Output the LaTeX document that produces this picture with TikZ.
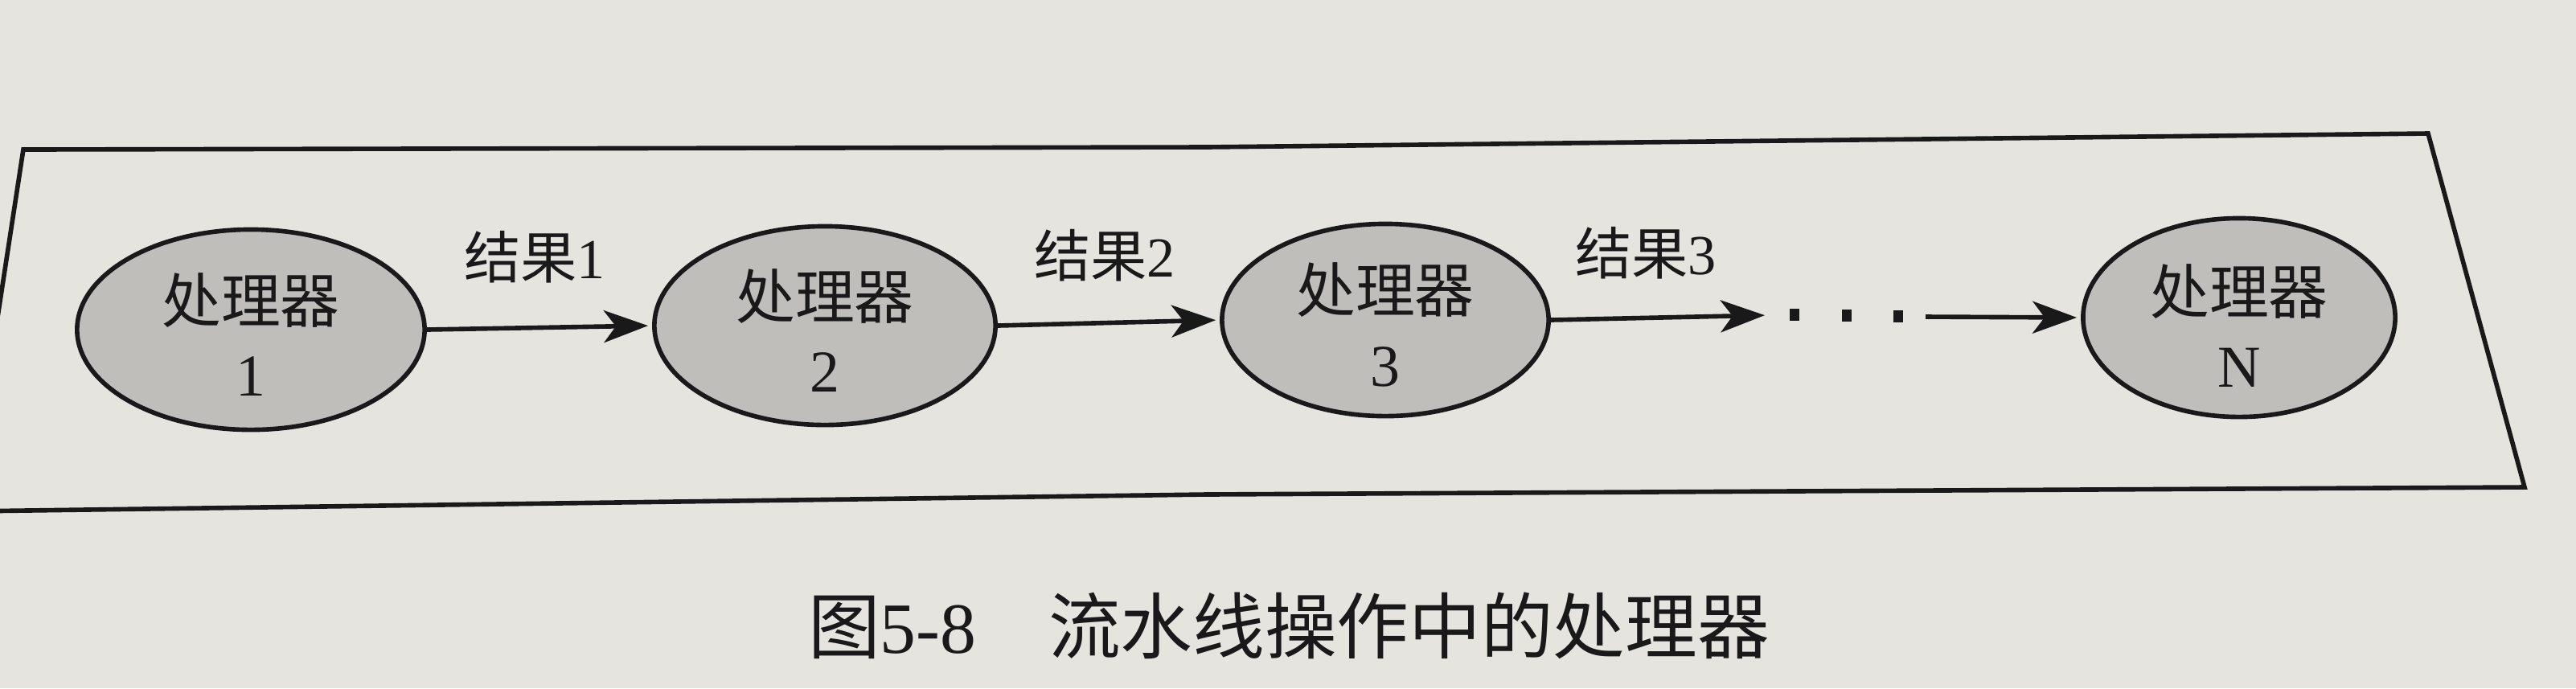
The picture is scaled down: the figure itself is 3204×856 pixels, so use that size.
\documentclass[tikz,border=0pt]{standalone}
\usepackage{fontspec}
\setmainfont{Liberation Serif}
\newfontfamily\cjk{Noto Sans CJK SC}
\usetikzlibrary{shapes.geometric,arrows.meta}
\definecolor{paper}{RGB}{230,228,223}
\definecolor{shade}{RGB}{192,190,187}
\definecolor{ink}{RGB}{25,25,25}
\tikzset{
  proc/.style={ellipse, draw=ink, line width=1.6pt, fill=shade, inner sep=0pt},
  proctext/.style={align=center, font=\fontsize{21}{26}\selectfont, text=ink, inner sep=0pt},
  lbl/.style={font=\fontsize{20}{24}\selectfont, text=ink, inner sep=0pt},
  arr/.style={draw=ink, line width=1.6pt, shorten >=0.05cm,
    -{Stealth[length=5.5mm,width=4mm,inset=1.5mm]}},
  dotbox/.style={fill=ink, minimum width=1.2mm, minimum height=1.5mm, inner sep=0pt},
  framebox/.style={draw=ink, line width=1.6pt, line join=miter},
  capt/.style={font=\fontsize{25.5}{30}\selectfont, text=ink, inner sep=0pt}
}
\begin{document}
\begin{tikzpicture}[x=0.01cm,y=-0.01cm]
\useasboundingbox (0,0) rectangle (3204,856);
\clip (0,0) rectangle (3204,856);
\fill[paper] (0,0) rectangle (3204,856);
% frame (photographed page, slightly in perspective)
\draw[framebox] (29,186) -- (1500,183) -- (3020,166) -- (3140,606) -- (1500,615) -- (-40,636) -- cycle;
% processors
\node[proc, minimum width=4.32cm, minimum height=2.49cm] (p1) at (312,410) {};
\node[proc, minimum width=4.24cm, minimum height=2.47cm] (p2) at (1026,405) {};
\node[proc, minimum width=4.06cm, minimum height=2.39cm] (p3) at (1723,398) {};
\node[proc, minimum width=3.88cm, minimum height=2.47cm] (pN) at (2785,395) {};
\node[proctext] (t1) at ([yshift=-0.06cm]p1.center) {{\cjk 处理器}\\1};
\node[proctext] (t2) at ([yshift=-0.06cm]p2.center) {{\cjk 处理器}\\2};
\node[proctext] (t3) at ([yshift=-0.06cm]p3.center) {{\cjk 处理器}\\3};
\node[proctext] (tN) at ([yshift=-0.1cm]pN.center) {{\cjk 处理器}\\N};
% labels
\node[lbl] (l1) at (665,320) {{\cjk 结果}1};
\node[lbl] (l2) at (1374,318) {{\cjk 结果}2};
\node[lbl] (l3) at (2047,315) {{\cjk 结果}3};
% connectors
\draw[arr] (p1.east) -- (p2.west);
\draw[arr] (p2.east) -- (p3.west);
\coordinate (c3) at (2200,392);
\draw[arr] (p3.east) -- (c3);
\node[dotbox] (d1) at (2232,391) {};
\node[dotbox] (d2) at (2297,392) {};
\node[dotbox] (d3) at (2361,393) {};
\coordinate (c4) at (2395,394);
\draw[arr] (c4) -- (pN.west);
% caption
\node[capt] (cap) at (1603,778) {{\cjk 图}5-8\hspace{1em}{\cjk 流水线操作中的处理器}};
\end{tikzpicture}
\end{document}
